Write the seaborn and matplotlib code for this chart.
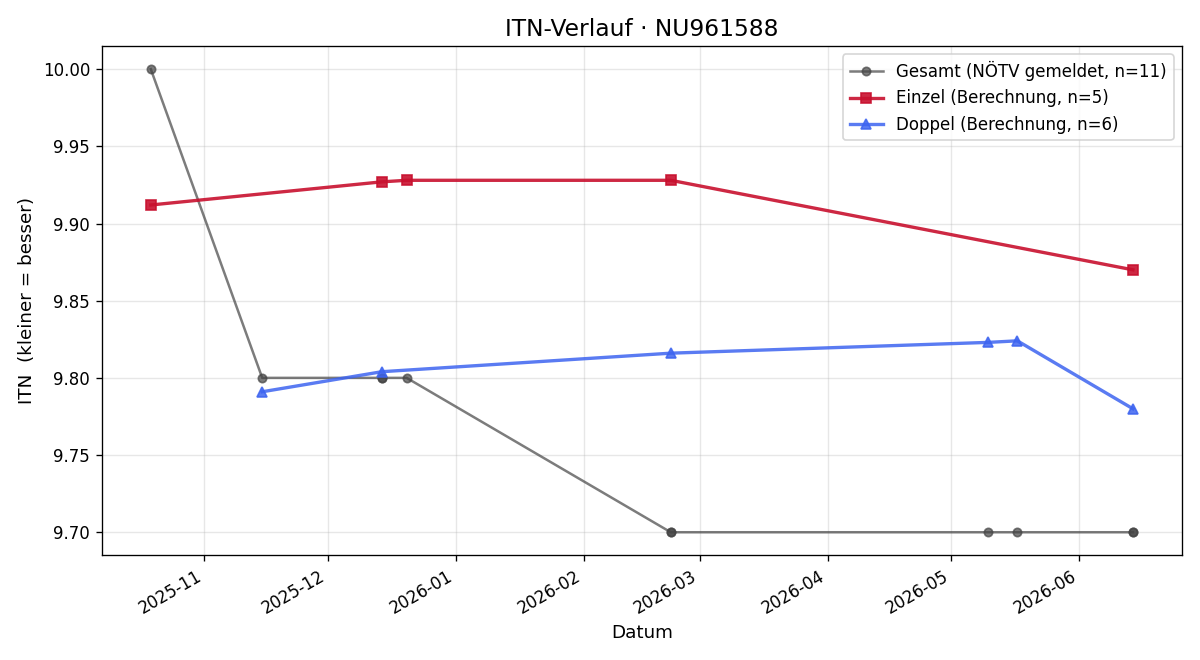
import numpy as np
import pandas as pd
import seaborn as sns
import matplotlib
matplotlib.use("Agg")
import matplotlib.pyplot as plt

# Gesamt (reported values, some dates appear twice)
gesamt_dates = ["2025-10-19", "2025-11-15", "2025-12-14", "2025-12-14", "2025-12-20",
                "2026-02-22", "2026-02-22", "2026-05-10", "2026-05-17", "2026-06-14", "2026-06-14"]
gesamt_itn = [10.00, 9.80, 9.80, 9.80, 9.80, 9.70, 9.70, 9.70, 9.70, 9.70, 9.70]

# Einzel (computed)
einzel_dates = ["2025-10-19", "2025-12-14", "2025-12-20", "2026-02-22", "2026-06-14"]
einzel_itn = [9.912, 9.927, 9.928, 9.928, 9.870]

# Doppel (computed)
doppel_dates = ["2025-11-15", "2025-12-14", "2026-02-22", "2026-05-10", "2026-05-17", "2026-06-14"]
doppel_itn = [9.791, 9.804, 9.816, 9.823, 9.824, 9.780]

df_g = pd.DataFrame({"Datum": pd.to_datetime(gesamt_dates), "ITN": gesamt_itn})
df_e = pd.DataFrame({"Datum": pd.to_datetime(einzel_dates), "ITN": einzel_itn})
df_d = pd.DataFrame({"Datum": pd.to_datetime(doppel_dates), "ITN": doppel_itn})

plt.rcParams['font.family'] = ['DejaVu Sans']

fig, ax = plt.subplots(figsize=(10, 5.5), dpi=120)

sns.lineplot(data=df_g, x="Datum", y="ITN", ax=ax, estimator=None, sort=False,
             color="#444444", alpha=0.7, linewidth=1.5, marker="o", markersize=5,
             markeredgecolor="#444444", markeredgewidth=1.0,
             label=f"Gesamt (NÖTV gemeldet, n={len(gesamt_itn)})")
sns.lineplot(data=df_e, x="Datum", y="ITN", ax=ax, estimator=None, sort=False,
             color="#C8102E", alpha=0.9, linewidth=2, marker="s", markersize=6,
             markeredgecolor="#C8102E", markeredgewidth=1.0,
             label=f"Einzel (Berechnung, n={len(einzel_itn)})")
sns.lineplot(data=df_d, x="Datum", y="ITN", ax=ax, estimator=None, sort=False,
             color="#3D64F0", alpha=0.85, linewidth=2, marker="^", markersize=6,
             markeredgecolor="#3D64F0", markeredgewidth=1.0,
             label=f"Doppel (Berechnung, n={len(doppel_itn)})")

ax.set_title("ITN-Verlauf · NU961588", fontsize=14)
ax.set_xlabel("Datum", fontsize=11)
ax.set_ylabel("ITN  (kleiner = besser)", fontsize=11)
ax.grid(True, alpha=0.3)
ax.legend(loc="upper right", fontsize=10)
fig.autofmt_xdate()

plt.tight_layout()
plt.savefig("out.png", dpi=120)
